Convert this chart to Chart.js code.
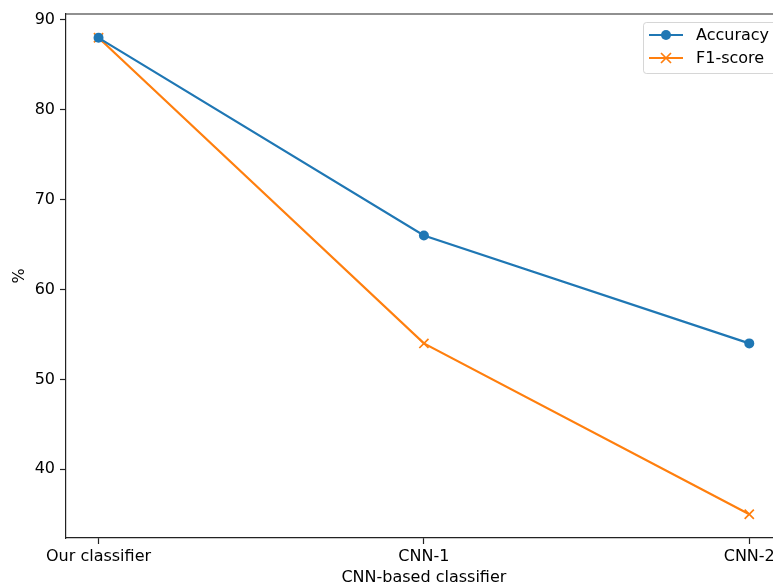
<!DOCTYPE html>
<html>
<head>
<meta charset="utf-8">
<script src="https://cdn.jsdelivr.net/npm/chart.js@4/dist/chart.umd.min.js"></script>
<style>
  html, body { margin: 0; padding: 0; background: #fff; overflow: hidden; }
  #wrap { width: 773px; height: 585px; overflow: hidden; }
</style>
</head>
<body>
<div id="wrap"><canvas id="myChart" width="790" height="585"></canvas></div>
<script>
const categories = ["Our classifier", "CNN-1", "CNN-2"];
const accuracy = [88, 66, 54];
const f1Score = [88, 54, 35];
const yTicks = [40, 50, 60, 70, 80, 90];
const seriesNames = ["Accuracy", "F1-score"];
const seriesColors = ["#1f77b4", "#ff7f0e"];

Chart.defaults.font.family = "'DejaVu Sans', sans-serif";
Chart.defaults.font.size = 16;
Chart.defaults.color = "#000";

// top/right spine + matplotlib style legend
const frame = {
  id: "frame",
  afterDraw(chart) {
    const ctx = chart.ctx;
    const a = chart.chartArea;
    ctx.save();
    ctx.strokeStyle = "#222";
    ctx.lineWidth = 1.2;
    ctx.beginPath();
    ctx.moveTo(a.left, a.top);
    ctx.lineTo(a.right, a.top);
    ctx.lineTo(a.right, a.bottom);
    ctx.stroke();

    // legend box
    const bx = 643.5, by = 22.5, bw = 133, bh = 51;
    ctx.fillStyle = "rgba(255,255,255,0.8)";
    ctx.strokeStyle = "rgba(204,204,204,0.8)";
    ctx.lineWidth = 1;
    ctx.beginPath();
    ctx.roundRect(bx, by, bw, bh, 3);
    ctx.fill();
    ctx.stroke();

    const rows = [35, 58];
    ctx.font = "16px 'DejaVu Sans'";
    ctx.textBaseline = "middle";
    rows.forEach((y, i) => {
      ctx.strokeStyle = seriesColors[i];
      ctx.lineWidth = 2.2;
      ctx.beginPath();
      ctx.moveTo(649, y);
      ctx.lineTo(683, y);
      ctx.stroke();
      if (i === 0) {
        ctx.fillStyle = seriesColors[i];
        ctx.beginPath();
        ctx.arc(666, y, 5, 0, Math.PI * 2);
        ctx.fill();
      } else {
        ctx.lineWidth = 1.7;
        ctx.beginPath();
        ctx.moveTo(661, y - 5); ctx.lineTo(671, y + 5);
        ctx.moveTo(661, y + 5); ctx.lineTo(671, y - 5);
        ctx.stroke();
      }
      ctx.fillStyle = "#000";
      ctx.fillText(seriesNames[i], 696, y + 1);
    });
    ctx.restore();
  }
};

new Chart("myChart", {
  type: "line",
  data: {
    datasets: [
      {
        label: seriesNames[0],
        data: accuracy.map((v, i) => ({ x: i, y: v })),
        borderColor: seriesColors[0],
        backgroundColor: seriesColors[0],
        borderWidth: 2.2,
        pointStyle: "circle",
        pointRadius: 5,
        pointBorderWidth: 0,
        tension: 0,
      },
      {
        label: seriesNames[1],
        data: f1Score.map((v, i) => ({ x: i, y: v })),
        borderColor: seriesColors[1],
        backgroundColor: seriesColors[1],
        borderWidth: 2.2,
        pointStyle: "crossRot",
        pointRadius: 6.5,
        pointBorderWidth: 1.7,
        tension: 0,
      },
    ],
  },
  options: {
    responsive: false,
    animation: false,
    layout: { padding: { top: 14, right: 4, left: 0, bottom: 0 } },
    plugins: { legend: { display: false }, tooltip: { enabled: false } },
    scales: {
      x: {
        type: "linear",
        min: -0.1,
        max: 2.1,
        afterBuildTicks: (s) => { s.ticks = categories.map((c, i) => ({ value: i })); },
        afterFit: (s) => { s.height = 47; s.paddingLeft = 0; s.paddingRight = 0; },
        ticks: { padding: 3, maxRotation: 0, autoSkip: false, callback: (v) => categories[v] },
        grid: { drawOnChartArea: false, drawTicks: true, tickLength: 6, color: "#222", tickWidth: 1.2 },
        border: { color: "#222", width: 1.2 },
        title: { display: true, text: "CNN-based classifier", padding: { top: 0, bottom: -2 } },
      },
      y: {
        min: 32.35,
        max: 90.65,
        afterBuildTicks: (s) => { s.ticks = yTicks.map((v) => ({ value: v })); },
        afterFit: (s) => { s.width = 66; s.paddingTop = 0; s.paddingBottom = 0; },
        ticks: { padding: 5 },
        grid: { drawOnChartArea: false, drawTicks: true, tickLength: 6, color: "#222", tickWidth: 1.2 },
        border: { color: "#222", width: 1.2 },
        title: { display: true, text: "%", padding: { top: 10, bottom: 0 } },
      },
    },
  },
  plugins: [frame],
});
</script>
</body>
</html>
